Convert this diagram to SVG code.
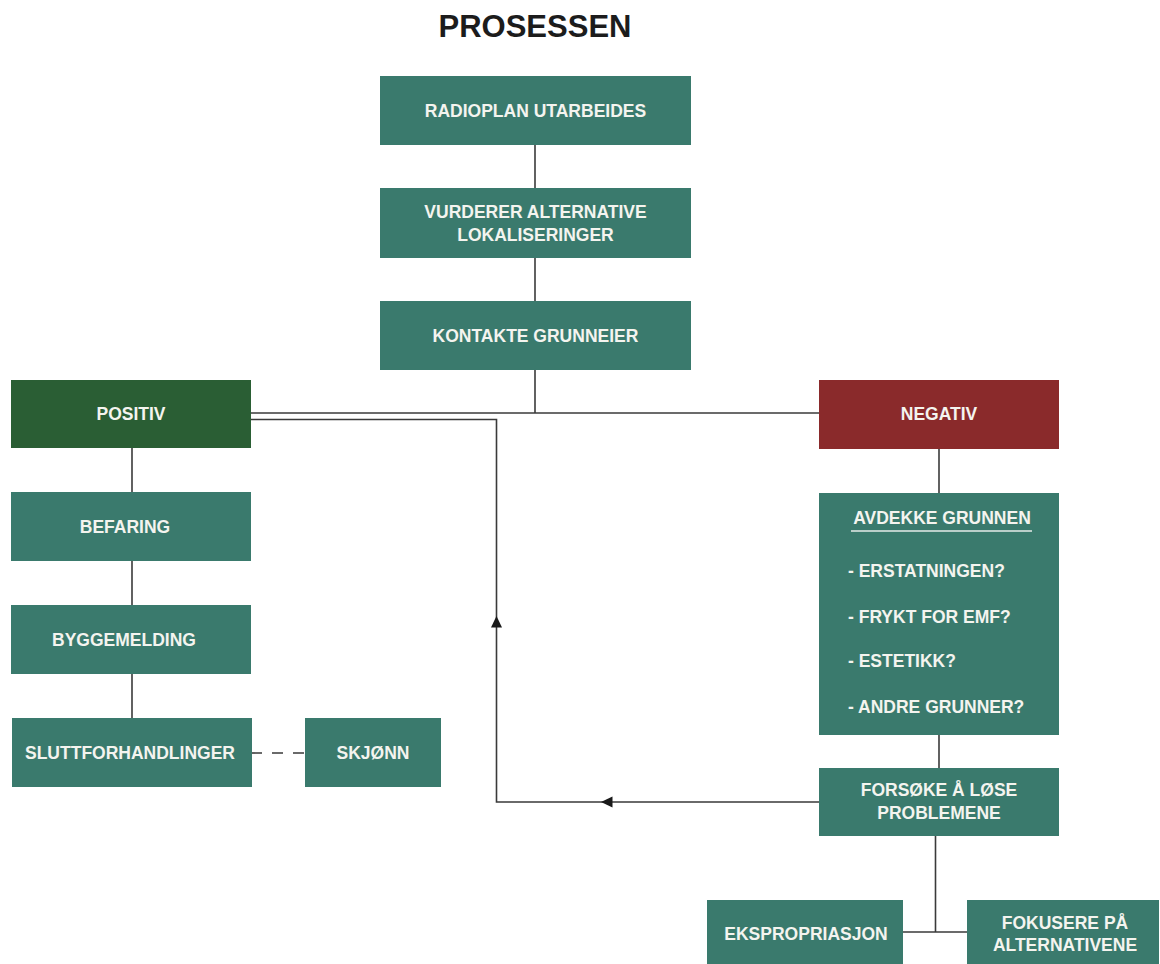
<svg xmlns="http://www.w3.org/2000/svg" width="1160" height="964" viewBox="0 0 1160 964">
<defs>
<style>
.box{fill:#3a7a6d}
.pos{fill:#2a5e34}
.neg{fill:#8a2a2b}
.t{font-family:"Liberation Sans",Arial,sans-serif;font-weight:bold;font-size:17.5px;fill:#f4f4ef;text-anchor:middle}
.tl{font-family:"Liberation Sans",Arial,sans-serif;font-weight:bold;font-size:17.5px;fill:#f4f4ef}
.ln{stroke:#3a3a3a;stroke-width:1.6;fill:none}
.title{font-family:"Liberation Sans",Arial,sans-serif;font-weight:bold;font-size:31px;fill:#1c1c1c;text-anchor:middle}
</style>
</defs>
<rect width="1160" height="964" fill="#ffffff"/>
<text class="title" x="535" y="37">PROSESSEN</text>
<g id="connectors">
<line class="ln" x1="535" y1="145" x2="535" y2="188"/>
<line class="ln" x1="535" y1="258" x2="535" y2="301"/>
<line class="ln" x1="535" y1="370" x2="535" y2="413"/>
<line class="ln" x1="251" y1="413" x2="820" y2="413"/>
<polyline class="ln" points="251,419.5 496.5,419.5 496.5,802 820,802"/>
<polygon points="496.5,616 491,627.5 502,627.5" fill="#1a1a1a"/>
<polygon points="601,802 612.5,796.5 612.5,807.5" fill="#1a1a1a"/>
<line class="ln" x1="132" y1="448" x2="132" y2="718"/>
<line class="ln" x1="251" y1="753" x2="305" y2="753" stroke-dasharray="11,10"/>
<line class="ln" x1="939" y1="449" x2="939" y2="493"/>
<line class="ln" x1="939" y1="735" x2="939" y2="768"/>
<line class="ln" x1="935.5" y1="836" x2="935.5" y2="932"/>
<line class="ln" x1="903" y1="932" x2="967" y2="932"/>
</g>
<g id="radioplan"><rect class="box" x="380" y="76" width="311" height="69"/><text class="t" x="535.5" y="116.5">RADIOPLAN UTARBEIDES</text></g>
<g id="vurderer"><rect class="box" x="380" y="188" width="311" height="70"/><text class="t" x="535.5" y="218">VURDERER ALTERNATIVE</text><text class="t" x="535.5" y="241">LOKALISERINGER</text></g>
<g id="kontakte"><rect class="box" x="380" y="301" width="311" height="69"/><text class="t" x="535.5" y="342">KONTAKTE GRUNNEIER</text></g>
<g id="positiv"><rect class="pos" x="11" y="380" width="240" height="68"/><text class="t" x="131" y="419.5">POSITIV</text></g>
<g id="negativ"><rect class="neg" x="819" y="380" width="240" height="69"/><text class="t" x="939" y="419.5">NEGATIV</text></g>
<g id="befaring"><rect class="box" x="11" y="492" width="240" height="69"/><text class="t" x="125" y="532.5">BEFARING</text></g>
<g id="byggemelding"><rect class="box" x="11" y="605" width="240" height="69"/><text class="t" x="124" y="645.5">BYGGEMELDING</text></g>
<g id="sluttforhandlinger"><rect class="box" x="12" y="718" width="240" height="69"/><text class="t" x="130" y="758.5">SLUTTFORHANDLINGER</text></g>
<g id="skjonn"><rect class="box" x="305" y="718" width="136" height="69"/><text class="t" x="373" y="758.5">SKJØNN</text></g>
<g id="avdekke"><rect class="box" x="819" y="493" width="240" height="242"/>
<text class="t" x="942" y="524">AVDEKKE GRUNNEN</text>
<line x1="851" y1="531" x2="1032" y2="531" stroke="#e6ebe8" stroke-width="1.6"/>
<text class="tl" x="848" y="577">- ERSTATNINGEN?</text>
<text class="tl" x="848" y="623">- FRYKT FOR EMF?</text>
<text class="tl" x="848" y="667">- ESTETIKK?</text>
<text class="tl" x="848" y="713">- ANDRE GRUNNER?</text>
</g>
<g id="forsoke"><rect class="box" x="819" y="768" width="240" height="68"/><text class="t" x="939" y="796">FORSØKE Å LØSE</text><text class="t" x="939" y="818.5">PROBLEMENE</text></g>
<g id="ekspropriasjon"><rect class="box" x="707" y="900" width="196" height="68"/><text class="t" x="806" y="939.5">EKSPROPRIASJON</text></g>
<g id="fokusere"><rect class="box" x="967" y="900" width="192" height="68"/><text class="t" x="1065" y="928.5">FOKUSERE PÅ</text><text class="t" x="1065" y="950.5">ALTERNATIVENE</text></g>
</svg>
